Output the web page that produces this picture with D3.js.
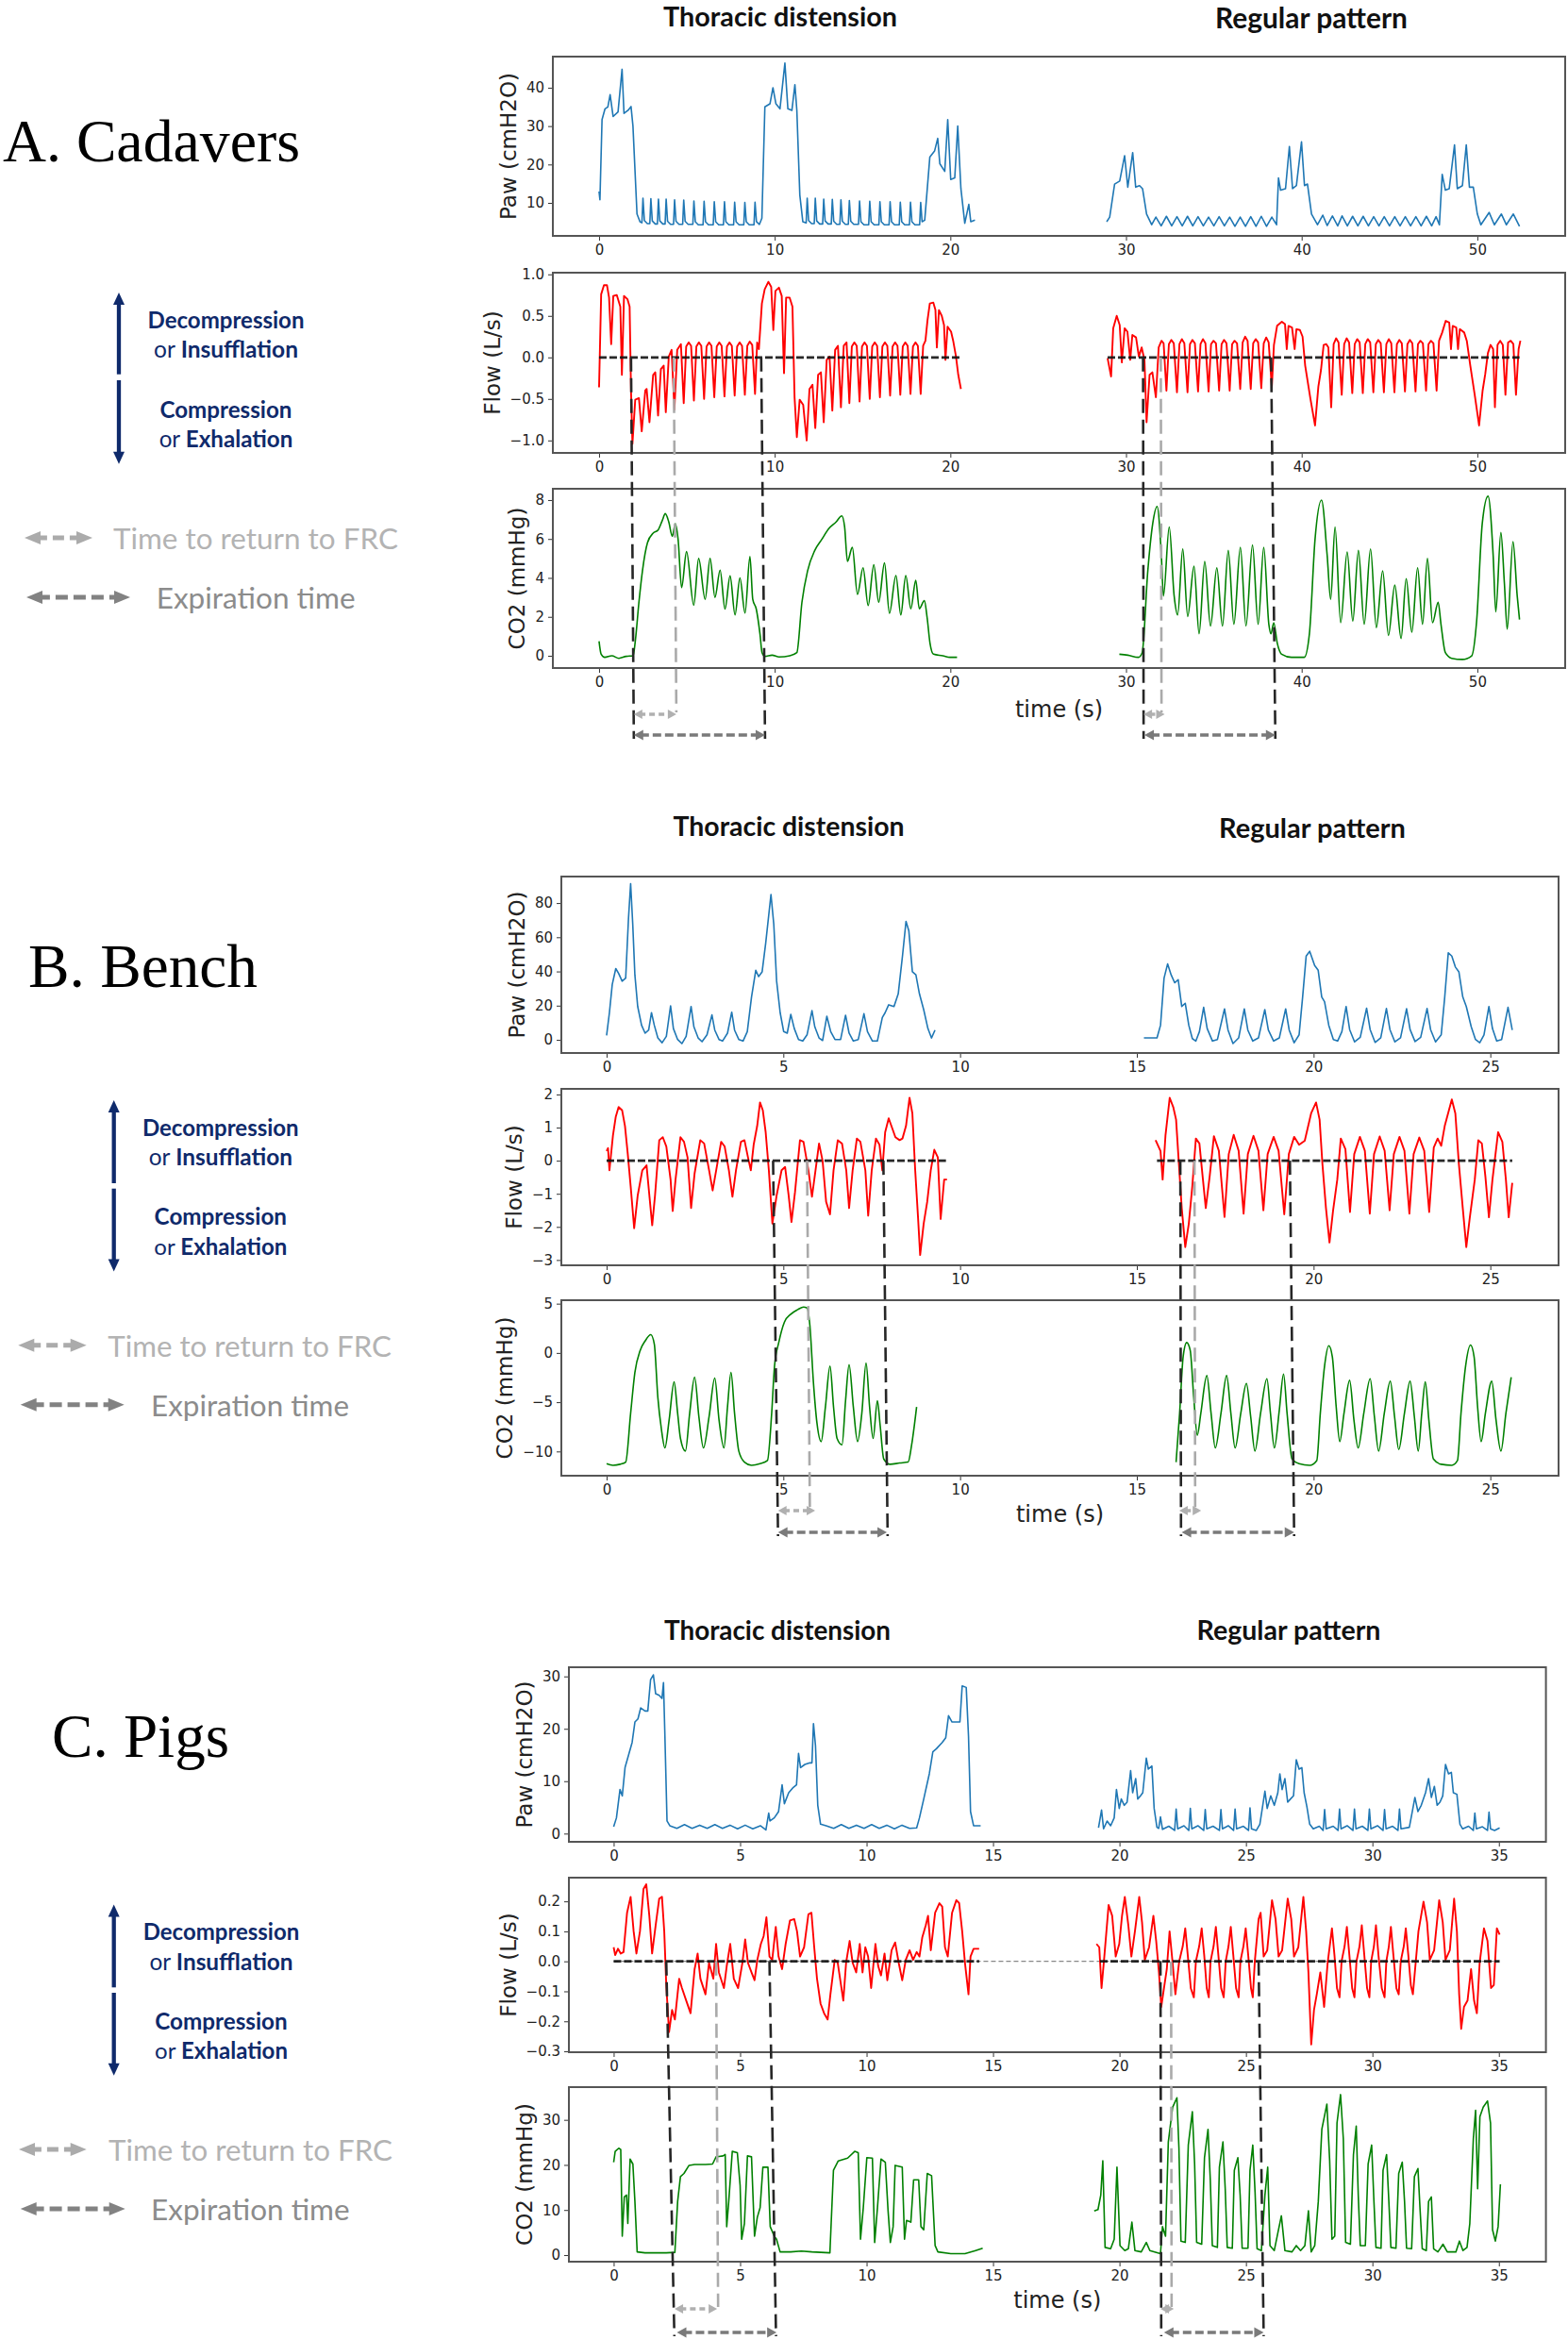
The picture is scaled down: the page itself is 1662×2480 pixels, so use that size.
<!DOCTYPE html>
<html><head><meta charset="utf-8">
<script src="https://cdn.jsdelivr.net/npm/d3@7"></script>
<style>body{margin:0;background:#fff}svg{display:block}</style>
</head><body>
<svg id="c" width="1662" height="2480"></svg>
<script>
// ===================== DATA (time s, value) =====================
const pawA1=[[0,13.0],[0.05,10.8],[0.17,31.7],[0.34,34.5],[0.5,35],[0.63,38.2],[0.8,32.5],[1.08,33.7],[1.31,44.8],[1.42,33.3],[1.65,34.1],[1.82,35.1],[1.93,30],[2.16,7.1],[2.33,5.1],
[2.44,4.8],[2.5,11.2],[2.58,5.4],[2.75,4.6],[2.89,4.6],[2.95,11.1],[3.03,5.3],[3.2,4.5],[3.32,4.5],[3.38,11.0],[3.46,5.3],[3.63,4.5],[3.76,4.5],[3.82,11.0],[3.9,5.2],[4.07,4.4],[4.24,4.4],[4.3,10.8],[4.38,5.2],[4.55,4.4],[4.76,4.4],[4.82,10.7],[4.9,5.2],[5.07,4.4],[5.34,4.4],[5.4,10.5],[5.48,5.1],[5.65,4.3],[5.92,4.3],[5.98,10.4],[6.06,5.1],[6.23,4.3],[6.5,4.3],[6.56,10.3],[6.64,5.1],[6.81,4.3],[7.08,4.3],[7.14,10.3],[7.22,5.1],[7.39,4.3],[7.66,4.3],[7.72,10.2],[7.8,5.1],[7.97,4.3],[8.24,4.3],[8.3,10.1],[8.38,5.1],[8.55,4.3],[8.82,4.3],[8.88,10.2],[8.96,5.1],[9.13,4.4],
[9.27,6],[9.44,35],[9.73,35.8],[9.9,40],[10.07,35.8],[10.3,34.5],[10.58,46.4],[10.75,34.5],[10.98,34.1],[11.15,40.8],[11.26,34.1],[11.43,12],[11.6,5.1],
[11.79,4.8],[11.85,11.2],[11.93,5.4],[12.1,4.6],[12.25,4.6],[12.31,11.2],[12.39,5.3],[12.56,4.5],[12.73,4.5],[12.79,11.0],[12.87,5.3],[13.04,4.5],[13.22,4.5],[13.28,10.9],[13.36,5.2],[13.53,4.4],[13.71,4.4],[13.77,10.8],[13.85,5.2],[14.02,4.4],[14.19,4.4],[14.25,10.6],[14.33,5.2],[14.5,4.4],[14.77,4.4],[14.83,10.5],[14.91,5.1],[15.08,4.3],[15.35,4.3],[15.41,10.4],[15.49,5.1],[15.66,4.3],[15.93,4.3],[15.99,10.3],[16.07,5.1],[16.24,4.3],[16.51,4.3],[16.57,10.3],[16.65,5.1],[16.82,4.3],[17.09,4.3],[17.15,10.2],[17.23,5.1],[17.4,4.3],[17.67,4.3],[17.73,10.2],[17.81,5.1],[17.98,4.3],[18.25,4.3],[18.31,10.1],[18.39,5.1],[18.54,5.5],
[18.83,21.9],[19.1,23.5],[19.28,26.8],[19.4,20.2],[19.68,18.2],[19.85,31.7],[20.02,16.1],[20.25,16.5],[20.42,30],[20.6,13.7],[20.82,4.7],[21.05,9.6],[21.16,5.1],[21.4,5.5]];
const pawA2=[[28.9,5.1],[29.07,6.3],[29.35,14.9],[29.64,15.7],[29.92,22.3],[30.1,14.1],[30.38,23.1],[30.55,14.1],[30.77,14.5],[30.94,13.7],[31.17,7.1],[31.46,4.3],
[31.7,6.3],[32.0,4.0],[32.3,6.5],[32.6,4.0],[32.9,6.4],[33.2,4.0],[33.5,6.5],[33.8,4.0],[34.1,6.4],[34.4,4.0],[34.7,6.3],[35.0,4.0],[35.3,6.4],[35.6,4.0],[35.9,6.3],[36.2,3.9],[36.5,6.3],[36.8,3.9],[37.1,6.4],[37.4,3.9],[37.7,6.5],[38.0,3.9],[38.3,6.3],[38.57,4.3],
[38.68,16.5],[38.8,13.3],[39.08,13.7],[39.3,24.7],[39.48,13.7],[39.7,14.5],[39.99,25.9],[40.16,14.5],[40.33,14.9],[40.56,7.1],[40.9,4.3],
[41.2,6.8],[41.45,4.1],[41.75,6.6],[42.05,4.0],[42.3,6.6],[42.6,4.0],[42.9,6.5],[43.2,4.0],[43.5,6.5],[43.8,4.0],[44.1,6.4],[44.4,4.0],[44.7,6.4],[45.0,4.0],[45.3,6.4],[45.6,4.0],[45.9,6.4],[46.2,4.0],[46.5,6.4],[46.8,4.0],[47.1,6.5],[47.4,4.0],[47.65,6.4],[47.84,4.3],
[48.0,17.4],[48.18,13.3],[48.4,13.7],[48.7,25.1],[48.86,13.7],[49.15,14.5],[49.37,25.1],[49.55,14.1],[49.77,14.1],[50.0,7.1],[50.2,4.3],[50.67,7.5],[50.97,4.3],[51.37,7.1],[51.65,4.3],[52.05,7.1],[52.4,3.9]];

const flowA1=[[0,-0.36],[0.12,0.76],[0.28,0.87],[0.45,0.87],[0.57,0.72],[0.69,0.16],[0.81,0.74],[1.01,0.75],[1.21,0.61],[1.3,-0.21],[1.42,0.74],[1.62,0.7],[1.74,0.61],[1.82,-0.4],[1.9,-1.04],[2.06,-0.51],[2.27,-0.49],[2.43,-0.89],[2.63,-0.4],[2.71,-0.38],[2.87,-0.78],[3.08,-0.21],[3.2,-0.18],[3.36,-0.7],[3.52,-0.14],[3.68,-0.1],[3.8,-0.66],[3.97,0.01],[4.13,0.09],[4.29,-0.63],[4.45,0.09],[4.66,0.16],[4.82,-0.55],
[4.96,0.13],[5.1,0.18],[5.24,0.14],[5.4,-0.52],[5.54,0.13],[5.68,0.18],[5.82,0.14],[5.98,-0.5],[6.12,0.13],[6.26,0.18],[6.4,0.14],[6.56,-0.48],[6.7,0.13],[6.84,0.18],[6.98,0.14],[7.14,-0.47],[7.28,0.13],[7.42,0.18],[7.56,0.14],[7.72,-0.46],[7.86,0.13],[8.0,0.18],[8.14,0.14],[8.3,-0.45],[8.44,0.14],[8.58,0.19],[8.72,0.15],[8.88,-0.44],[9.0,0.18],[9.1,0.1],
[9.27,0.65],[9.43,0.82],[9.64,0.91],[9.8,0.85],[9.92,0.33],[10.04,0.8],[10.24,0.84],[10.4,0.74],[10.53,-0.19],[10.65,0.72],[10.85,0.72],[11.01,0.61],[11.13,-0.48],[11.26,-0.96],[11.42,-0.51],[11.62,-0.57],[11.82,-1.0],[11.98,-0.38],[12.15,-0.33],[12.31,-0.85],[12.47,-0.21],[12.63,-0.18],[12.79,-0.78],[12.96,-0.03],[13.12,0.01],[13.28,-0.64],[13.44,0.09],[13.6,0.14],[13.77,-0.6],[13.93,0.14],[14.09,0.18],[14.25,-0.55],
[14.39,0.13],[14.53,0.18],[14.67,0.14],[14.83,-0.53],[14.97,0.13],[15.11,0.18],[15.25,0.14],[15.41,-0.5],[15.55,0.13],[15.69,0.18],[15.83,0.14],[15.99,-0.48],[16.13,0.13],[16.27,0.18],[16.41,0.14],[16.57,-0.46],[16.71,0.13],[16.85,0.18],[16.99,0.14],[17.15,-0.45],[17.29,0.13],[17.43,0.18],[17.57,0.14],[17.73,-0.44],[17.87,0.13],[18.01,0.18],[18.15,0.14],[18.31,-0.44],[18.45,0.14],[18.58,0.2],[18.7,0.45],
[18.83,0.65],[19.03,0.66],[19.15,0.57],[19.23,0.12],[19.35,0.57],[19.51,0.5],[19.64,0.39],[19.72,-0.03],[19.84,0.37],[20.04,0.31],[20.16,0.2],[20.32,0.01],[20.45,-0.21],[20.6,-0.38]];
const flowA2=[[28.95,-0.01],[29.15,-0.23],[29.27,0.35],[29.47,0.5],[29.64,0.39],[29.76,-0.06],[29.92,0.35],[30.08,0.31],[30.24,-0.03],[30.36,0.27],[30.57,0.24],[30.73,0.01],[30.89,0.12],[31.05,-0.03],[31.17,-0.78],[31.34,-0.21],[31.5,-0.18],[31.7,-0.48],[31.86,0.12],[32.02,0.2],[32.14,0.17],[32.3,-0.4],
[32.44,0.16],[32.58,0.21],[32.72,0.17],[32.9,-0.42],[33.04,0.16],[33.18,0.22],[33.32,0.17],[33.5,-0.42],[33.64,0.16],[33.78,0.21],[33.92,0.17],[34.1,-0.41],[34.24,0.16],[34.38,0.22],[34.52,0.17],[34.7,-0.41],[34.84,0.16],[34.98,0.2],[35.12,0.17],[35.3,-0.4],[35.44,0.16],[35.58,0.21],[35.72,0.17],[35.9,-0.4],[36.04,0.16],[36.18,0.2],[36.32,0.17],[36.5,-0.38],[36.64,0.18],[36.78,0.25],[36.92,0.2],[37.1,-0.38],[37.24,0.17],[37.38,0.22],[37.52,0.18],[37.7,-0.37],[37.84,0.17],[37.98,0.24],[38.12,0.18],[38.3,-0.36],
[38.42,0.15],[38.6,0.38],[38.87,0.43],[39.05,0.4],[39.15,0.1],[39.25,0.38],[39.45,0.36],[39.6,0.1],[39.7,0.34],[39.9,0.33],[40.05,0.25],[40.2,-0.1],[40.5,-0.5],[40.76,-0.82],[40.95,-0.35],[41.1,-0.15],[41.25,0.15],[41.4,0.16],[41.52,0.12],[41.68,-0.6],
[41.82,0.16],[41.96,0.23],[42.1,0.18],[42.28,-0.45],[42.42,0.16],[42.56,0.23],[42.7,0.18],[42.88,-0.43],[43.02,0.16],[43.16,0.22],[43.3,0.18],[43.48,-0.43],[43.62,0.16],[43.76,0.22],[43.9,0.18],[44.08,-0.42],[44.22,0.16],[44.36,0.21],[44.5,0.17],[44.68,-0.42],[44.82,0.16],[44.96,0.22],[45.1,0.17],[45.28,-0.42],[45.42,0.16],[45.56,0.21],[45.7,0.17],[45.88,-0.41],[46.02,0.16],[46.16,0.21],[46.3,0.17],[46.48,-0.41],[46.62,0.16],[46.76,0.2],[46.9,0.17],[47.08,-0.4],[47.22,0.16],[47.36,0.2],[47.5,0.17],[47.68,-0.4],
[47.82,0.2],[48.0,0.3],[48.2,0.44],[48.4,0.42],[48.5,0.1],[48.6,0.38],[48.8,0.36],[48.9,0.1],[49.0,0.34],[49.25,0.3],[49.4,0.2],[49.6,-0.1],[49.85,-0.45],[50.1,-0.82],[50.3,-0.4],[50.45,-0.2],[50.6,0.05],[50.75,0.15],[50.9,0.1],[51.0,-0.6],[51.15,0.15],[51.3,0.2],[51.45,0.15],[51.6,-0.45],[51.75,0.18],[51.9,0.2],[52.05,0.16],[52.2,-0.45],[52.35,0.1],[52.45,0.2]];

const co2A1=[[0,0.75],[0.12,0.08],[0.32,-0.08],[0.73,0],[1.13,-0.13],[1.54,-0.03],[1.94,0],[2.07,0.81],[2.27,2.75],[2.47,4.36],[2.76,5.82],[3.08,6.3],[3.36,6.46],[3.6,6.95],[3.77,7.3],[3.97,6.87],[4.17,6.14],[4.34,6.79],[4.5,5.98],[4.7,3.5],[4.98,5.35],[5.39,2.6],[5.67,5.0],[6.04,2.9],[6.32,5.0],[6.6,3.0],[6.89,4.4],[7.17,2.4],[7.46,4.1],[7.74,2.1],[8.02,4.0],[8.31,2.2],[8.59,5.1],[8.75,2.9],[8.95,2.4],[9.16,1.13],[9.28,0.16],[9.44,-0.03],[9.85,0.03],[10.25,-0.06],[10.86,0],[11.26,0.16],[11.55,2.75],[11.87,4.36],[12.28,5.41],[12.68,5.98],[13.09,6.54],[13.49,6.87],[13.82,7.19],[13.98,6.62],[14.14,4.85],[14.42,5.57],[14.71,3.15],[15.03,4.52],[15.32,2.58],[15.64,4.68],[15.92,2.75],[16.25,4.77],[16.53,2.18],[16.9,4.12],[17.18,2.1],[17.46,4.12],[17.75,2.42],[18.03,3.88],[18.23,2.42],[18.52,2.83],[18.68,1.94],[18.84,0.65],[19.04,0.08],[19.57,0],[19.98,-0.08],[20.38,-0.08]];
const co2A2=[[29.62,0.08],[30.1,0.03],[30.71,-0.08],[30.92,0.16],[31.24,4.36],[31.52,6.79],[31.77,7.67],[32.01,5.17],[32.13,3.07],[32.46,6.62],[32.74,3.07],[32.94,2.1],[33.23,5.49],[33.51,2.02],[33.87,4.6],[34.16,1.13],[34.48,4.85],[34.81,1.53],[35.17,4.52],[35.49,1.53],[35.82,5.41],[36.14,1.62],[36.51,5.57],[36.83,1.53],[37.2,5.69],[37.52,1.62],[37.84,5.57],[38.13,1.62],[38.25,1.13],[38.41,1.7],[38.61,0.65],[38.86,0.08],[39.42,-0.08],[40.15,-0.08],[40.44,1.13],[40.76,5.98],[41.13,8.0],[41.45,5.17],[41.65,2.9],[41.9,6.62],[42.22,1.7],[42.59,5.33],[42.91,1.78],[43.23,5.41],[43.56,1.62],[43.92,5.49],[44.25,1.45],[44.61,4.36],[44.94,1.05],[45.3,3.63],[45.66,0.89],[45.95,3.96],[46.27,1.21],[46.6,4.52],[46.88,1.62],[47.16,5.0],[47.45,1.7],[47.77,2.75],[47.93,1.62],[48.18,0.16],[48.54,-0.13],[49.15,-0.19],[49.68,0],[49.96,1.78],[50.28,6.79],[50.61,8.2],[50.9,5.17],[51.05,2.26],[51.34,6.33],[51.54,3.72],[51.7,1.37],[52.03,5.86],[52.27,3.07],[52.4,1.86]];

const pawB1=[[0,2.6],[0.08,15.9],[0.16,32.4],[0.26,41.7],[0.34,38.9],[0.44,34.3],[0.54,36.1],[0.62,71.2],[0.68,91.4],[0.74,67.5],[0.8,38],[0.88,19.5],[0.99,8.5],[1.09,3.9],[1.19,5.7],[1.27,15.9],[1.35,8.5],[1.45,1.1],[1.57,-1.7],[1.69,2],[1.81,19.9],[1.89,6.6],[2.01,0.2],[2.13,-2.2],[2.25,2],[2.39,19.5],[2.47,7.6],[2.59,1.1],[2.7,-1.1],[2.84,2.9],[2.98,14.6],[3.06,5.7],[3.18,0.2],[3.28,-0.7],[3.42,3.9],[3.54,16.2],[3.62,5.7],[3.74,0.2],[3.86,-0.7],[3.98,4.8],[4.1,25.1],[4.22,40.7],[4.3,37],[4.4,39.8],[4.5,56.4],[4.65,85],[4.73,67.5],[4.81,34.3],[4.91,15.9],[5.01,4.8],[5.11,3.9],[5.21,14.9],[5.31,6.6],[5.43,0.2],[5.55,-0.7],[5.67,2.9],[5.81,17.1],[5.89,7.6],[6.01,1.1],[6.11,-0.4],[6.23,13.8],[6.34,4.8],[6.46,0.2],[6.62,0.2],[6.76,14.4],[6.86,3.9],[6.98,-0.7],[7.12,0.2],[7.28,15.3],[7.38,4.8],[7.52,-0.7],[7.66,-0.7],[7.8,13.1],[7.88,15.9],[7.98,20.5],[8.13,19.5],[8.25,26.9],[8.37,49],[8.47,69.3],[8.55,63.8],[8.65,39.8],[8.75,38],[8.85,26.9],[8.97,17.7],[9.09,6.6],[9.19,1.1],[9.29,5.7]];
const pawB2=[[15.2,1.1],[15.57,1.1],[15.67,8.5],[15.77,36.1],[15.87,44.4],[15.97,38],[16.07,33.4],[16.17,35.2],[16.27,19.5],[16.37,21.4],[16.47,8.5],[16.57,0.7],[16.67,-0.7],[16.77,4.8],[16.89,19],[16.99,6.6],[17.14,-0.7],[17.28,0.2],[17.48,18.1],[17.58,5.7],[17.72,-2.2],[17.88,1.1],[18.04,18.1],[18.14,5.7],[18.28,-0.7],[18.44,1.1],[18.62,17.7],[18.72,5.7],[18.87,-0.7],[19.03,1.1],[19.21,18.1],[19.31,5.7],[19.45,-1.7],[19.59,2.9],[19.69,25.1],[19.79,49],[19.89,51.8],[20.03,43.5],[20.13,40.7],[20.23,25.1],[20.31,22.3],[20.43,8.5],[20.56,0.2],[20.68,-0.7],[20.8,4.8],[20.92,19.5],[21.02,6],[21.16,-1.2],[21.32,1.5],[21.5,18.5],[21.6,6],[21.74,-1.5],[21.9,1.2],[22.06,18.3],[22.16,6],[22.3,-1.2],[22.46,1.2],[22.63,18.2],[22.73,6],[22.87,-1.0],[23.03,1.5],[23.21,18.3],[23.31,6],[23.45,-1.2],[23.61,2.9],[23.71,25.1],[23.81,50.9],[23.91,49],[24.01,42.6],[24.11,39.8],[24.22,25.1],[24.32,19.5],[24.46,7.6],[24.58,0.2],[24.7,-1.7],[24.82,2.9],[24.96,19.5],[25.06,6.6],[25.18,-0.7],[25.32,0.2],[25.5,19],[25.62,5.7]];

const flowB1=[[0,0.29],[0.04,0.38],[0.08,-0.29],[0.18,0.76],[0.26,1.33],[0.34,1.62],[0.44,1.52],[0.52,1.05],[0.6,0.19],[0.68,-0.76],[0.78,-2.04],[0.88,-1.05],[1.01,-0.29],[1.13,-0.14],[1.21,-1.05],[1.29,-1.95],[1.37,-1.05],[1.49,0.62],[1.59,0.71],[1.69,0.43],[1.81,-0.57],[1.87,-1.52],[1.95,-0.57],[2.09,0.71],[2.19,0.57],[2.29,0.1],[2.39,-1.43],[2.49,-0.38],[2.65,0.62],[2.76,0.52],[2.9,-0.29],[3.0,-0.9],[3.1,-0.29],[3.24,0.57],[3.34,0.43],[3.46,-0.29],[3.56,-1.09],[3.66,-0.29],[3.8,0.57],[3.9,0.62],[4.0,0.1],[4.08,-0.29],[4.16,0.48],[4.26,1.05],[4.34,1.76],[4.42,1.52],[4.5,0.86],[4.59,-0.29],[4.69,-1.9],[4.81,-1.05],[4.95,-0.29],[5.05,-0.19],[5.15,-1.05],[5.23,-1.85],[5.33,-0.95],[5.47,0.62],[5.57,0.57],[5.71,-0.29],[5.81,-1.09],[5.91,-0.29],[6.01,0.52],[6.11,0],[6.21,-1.24],[6.32,-1.62],[6.42,-0.29],[6.54,0.62],[6.66,0.52],[6.78,-0.29],[6.86,-1.43],[6.96,-0.29],[7.08,0.67],[7.18,0.57],[7.32,-0.29],[7.4,-1.66],[7.5,-0.29],[7.62,0.67],[7.72,0.48],[7.8,-0.29],[7.88,0.86],[7.98,1.28],[8.09,0.95],[8.17,0.71],[8.29,0.62],[8.37,0.67],[8.47,1.05],[8.57,1.9],[8.65,1.43],[8.73,-0.29],[8.81,-1.71],[8.87,-2.85],[8.97,-1.9],[9.07,-1.24],[9.17,-0.29],[9.27,0.33],[9.37,0.1],[9.45,-1.76],[9.55,-0.57],[9.63,-0.57]];
const flowB2=[[15.53,0.62],[15.67,0.29],[15.73,-0.57],[15.81,0.76],[15.93,1.9],[16.03,1.62],[16.11,1.24],[16.19,-0.1],[16.27,-1.43],[16.37,-2.61],[16.47,-1.9],[16.57,-0.76],[16.67,0.67],[16.77,0.52],[16.87,-0.57],[16.95,-1.43],[17.06,-0.48],[17.18,0.74],[17.32,0.3],[17.48,-1.7],[17.6,0.2],[17.74,0.78],[17.88,0.3],[18.02,-1.6],[18.14,0.2],[18.3,0.75],[18.44,0.3],[18.58,-1.5],[18.7,0.2],[18.87,0.72],[19.01,0.3],[19.17,-1.62],[19.3,0.2],[19.45,0.72],[19.59,0.48],[19.75,0.6],[19.93,1.43],[20.07,1.76],[20.17,1.24],[20.25,-0.1],[20.35,-1.43],[20.45,-2.47],[20.55,-1.52],[20.67,-0.57],[20.77,0.67],[20.9,0.35],[21.03,-1.55],[21.15,0.2],[21.31,0.72],[21.45,0.3],[21.59,-1.6],[21.71,0.2],[21.87,0.73],[22.01,0.3],[22.15,-1.5],[22.27,0.2],[22.43,0.72],[22.57,0.3],[22.71,-1.6],[22.83,0.2],[22.99,0.7],[23.13,0.3],[23.27,-1.55],[23.4,0.4],[23.51,0.67],[23.61,0.45],[23.71,1.05],[23.91,1.85],[24.01,1.43],[24.11,-0.1],[24.22,-1.43],[24.32,-2.61],[24.42,-1.71],[24.56,-0.57],[24.66,0.62],[24.76,0.52],[24.86,-0.48],[24.96,-1.71],[25.06,-0.57],[25.22,0.86],[25.34,0.57],[25.44,-0.57],[25.52,-1.71],[25.62,-0.67]];

const co2B1=[[0,-11.24],[0.18,-11.4],[0.38,-11.3],[0.54,-11.08],[0.68,-6.13],[0.8,-1.98],[0.95,0.26],[1.09,1.21],[1.25,1.85],[1.35,0.89],[1.45,-4.53],[1.55,-7.72],[1.65,-9.64],[1.77,-6.77],[1.91,-2.94],[2.01,-6.13],[2.09,-8.68],[2.23,-9.96],[2.35,-6.13],[2.49,-2.46],[2.61,-6.45],[2.74,-9.64],[2.9,-6.45],[3.06,-2.55],[3.18,-6.77],[3.32,-9.64],[3.42,-5.49],[3.52,-1.98],[3.62,-6.13],[3.74,-9.96],[3.9,-11.08],[4.1,-11.4],[4.34,-11.24],[4.55,-10.92],[4.67,-6.13],[4.75,-1.34],[4.87,1.05],[5.03,3.13],[5.21,3.93],[5.41,4.4],[5.57,4.66],[5.67,4.56],[5.75,2.81],[5.85,-2.94],[5.95,-7.09],[6.07,-9.0],[6.19,-5.49],[6.32,-1.34],[6.42,-5.49],[6.52,-8.68],[6.66,-9.32],[6.76,-4.85],[6.86,-1.18],[6.98,-5.49],[7.1,-9.0],[7.22,-6.13],[7.34,-1.02],[7.44,-5.49],[7.54,-8.68],[7.66,-4.85],[7.74,-7.4],[7.84,-10.76],[8.02,-11.3],[8.29,-11.17],[8.53,-11.08],[8.63,-9.32],[8.77,-5.49]];
const co2B2=[[16.11,-11.08],[16.21,-6.13],[16.31,-0.38],[16.41,1.05],[16.51,0.26],[16.61,-4.53],[16.71,-8.36],[16.81,-6.13],[16.98,-2.3],[17.1,-6.13],[17.22,-9.64],[17.38,-6.13],[17.54,-2.3],[17.66,-6.13],[17.78,-9.64],[17.94,-6.13],[18.1,-3.1],[18.22,-6.45],[18.34,-9.96],[18.5,-6.13],[18.68,-2.62],[18.78,-6.13],[18.89,-9.64],[19.03,-5.81],[19.15,-2.14],[19.25,-6.13],[19.39,-10.76],[19.59,-11.24],[19.89,-11.4],[20.09,-10.92],[20.19,-6.13],[20.31,-1.34],[20.43,0.73],[20.53,-0.38],[20.64,-5.49],[20.74,-9.0],[20.86,-6.13],[21.02,-2.78],[21.14,-6.77],[21.26,-9.64],[21.42,-6.13],[21.6,-2.62],[21.72,-6.45],[21.84,-9.96],[22.0,-6.13],[22.17,-2.87],[22.29,-6.45],[22.41,-9.8],[22.57,-6.13],[22.73,-2.87],[22.85,-6.45],[22.96,-9.96],[23.06,-6.13],[23.16,-2.94],[23.26,-6.77],[23.39,-10.76],[23.61,-11.3],[23.91,-11.4],[24.07,-10.92],[24.17,-6.13],[24.3,-1.34],[24.44,0.8],[24.54,-0.38],[24.64,-5.49],[24.74,-9.0],[24.86,-6.13],[25.04,-2.87],[25.16,-6.77],[25.3,-9.96],[25.44,-6.13],[25.59,-2.46]];

const pawC1=[[0,1.3],[0.11,3.0],[0.25,8.4],[0.34,7.2],[0.45,12.6],[0.59,15],[0.73,17.4],[0.84,21.3],[0.96,21.9],[1.07,24],[1.24,23.4],[1.35,23.4],[1.46,29.4],[1.57,30.3],[1.66,26.7],[1.8,26.4],[1.91,25.8],[1.97,28.8],[2.02,19.8],[2.11,2.4],[2.22,1.5],[2.5,1.0],[2.8,1.7],[3.1,1.0],[3.4,1.6],[3.7,1.0],[4.0,1.7],[4.3,1.0],[4.6,1.6],[4.9,0.9],[5.2,1.6],[5.5,0.9],[5.8,1.5],[6.02,0.7],[6.13,3.9],[6.18,2.4],[6.35,3.0],[6.52,4.2],[6.66,9.3],[6.75,5.7],[6.92,7.8],[7.08,8.7],[7.23,9.3],[7.31,15.3],[7.39,12.6],[7.56,13.2],[7.76,13.5],[7.84,13.5],[7.9,21],[7.98,16.8],[8.07,5.4],[8.18,1.8],[8.4,1.5],[8.7,1.0],[9.0,1.7],[9.3,1.0],[9.6,1.6],[9.9,1.0],[10.2,1.7],[10.5,1.0],[10.8,1.6],[11.1,0.9],[11.4,1.6],[11.7,1.0],[11.98,1.1],[12.09,3.0],[12.26,6.6],[12.48,11.4],[12.62,15.6],[12.76,16.2],[12.99,17.4],[13.13,18.3],[13.24,22.5],[13.38,21.3],[13.69,21.3],[13.78,28.2],[13.94,27.9],[14.03,18.6],[14.11,4.2],[14.23,1.5],[14.51,1.5]];
const pawC2=[[19.17,1.1],[19.29,4.5],[19.37,0.9],[19.51,2.4],[19.65,1.5],[19.79,3.0],[19.88,8.4],[19.99,4.8],[20.07,6.6],[20.19,5.4],[20.3,6.0],[20.44,12],[20.52,7.8],[20.64,10.5],[20.72,6.6],[20.83,7.2],[20.92,7.8],[21.06,14.4],[21.14,12.3],[21.28,12.9],[21.37,4.8],[21.48,1.2],
[21.55,1.0],[21.62,3.2],[21.7,0.8],[21.95,1.4],[22.18,0.6],[22.24,4.7],[22.3,0.9],[22.55,1.5],[22.74,0.6],[22.8,4.8],[22.86,0.9],[23.1,1.5],[23.33,0.6],[23.39,4.6],[23.45,0.9],[23.7,1.4],[23.95,0.6],[24.01,4.6],[24.07,0.9],[24.3,1.5],[24.51,0.6],[24.57,4.7],[24.63,0.9],[24.9,1.4],[25.1,0.6],[25.16,4.9],[25.22,0.9],[25.41,0.6],
[25.55,1.8],[25.75,8.1],[25.84,4.8],[25.98,7.2],[26.12,5.4],[26.26,7.8],[26.34,11.4],[26.43,8.4],[26.54,10.5],[26.65,6.0],[26.76,6.6],[26.88,7.2],[26.99,14.1],[27.1,12.3],[27.21,12.6],[27.3,7.8],[27.41,5.1],[27.52,1.8],[27.66,0.9],
[27.9,1.4],[28.05,0.6],[28.11,4.6],[28.17,0.9],[28.45,1.4],[28.64,0.6],[28.7,4.7],[28.76,0.9],[29.0,1.5],[29.23,0.6],[29.29,4.7],[29.35,0.9],[29.6,1.4],[29.82,0.6],[29.88,4.7],[29.94,0.9],[30.2,1.5],[30.42,0.6],[30.48,4.6],[30.54,0.9],[30.8,1.4],[31.01,0.6],[31.07,4.7],[31.13,0.9],[31.46,1.2],
[31.6,4.8],[31.68,6.9],[31.8,4.2],[31.93,5.4],[32.1,7.8],[32.22,10.5],[32.33,6.9],[32.45,9.0],[32.56,5.4],[32.67,6.0],[32.78,7.2],[32.89,13.2],[33.01,11.4],[33.12,11.7],[33.2,7.8],[33.34,7.5],[33.46,1.8],[33.57,0.9],
[33.8,1.4],[33.99,0.6],[34.05,3.9],[34.11,0.9],[34.35,1.3],[34.55,0.6],[34.61,4.1],[34.67,0.9],[34.83,0.6],[35.03,1.1]];

const flowC1=[[0,0.047],[0.06,0.021],[0.17,0.042],[0.28,0.026],[0.39,0.031],[0.53,0.162],[0.67,0.215],[0.79,0.1],[0.9,0.026],[1.04,0.1],[1.18,0.241],[1.29,0.257],[1.41,0.152],[1.52,0.026],[1.66,0.12],[1.8,0.209],[1.91,0.215],[2.0,0.1],[2.08,-0.079],[2.19,-0.236],[2.31,-0.162],[2.42,-0.194],[2.59,-0.058],[2.7,-0.089],[2.87,-0.131],[3.04,-0.173],[3.2,-0.026],[3.32,0.026],[3.43,-0.058],[3.63,-0.11],[3.77,-0.005],[3.94,-0.058],[4.05,0.058],[4.16,-0.037],[4.36,-0.089],[4.47,-0.016],[4.61,0.058],[4.75,-0.058],[4.92,-0.089],[5.09,-0.005],[5.2,0.073],[5.31,-0.005],[5.45,-0.037],[5.57,-0.063],[5.68,0.005],[5.82,0.058],[5.93,0.084],[6.04,0.147],[6.16,0.016],[6.27,0.005],[6.41,0.115],[6.52,0.016],[6.66,-0.026],[6.8,0.058],[6.97,0.136],[7.14,0.141],[7.25,0.1],[7.37,0.016],[7.53,0.047],[7.7,0.157],[7.82,0.162],[7.93,0.047],[8.04,-0.058],[8.18,-0.141],[8.32,-0.173],[8.46,-0.194],[8.57,-0.11],[8.74,0.005],[8.86,-0.005],[8.97,-0.068],[9.08,-0.131],[9.19,-0.005],[9.33,0.068],[9.45,-0.005],[9.59,-0.037],[9.73,0.058],[9.84,-0.037],[9.95,0.047],[10.06,0.016],[10.18,-0.089],[10.35,0.058],[10.46,-0.016],[10.57,-0.047],[10.71,0.026],[10.82,-0.063],[10.99,0.037],[11.13,0.063],[11.27,-0.005],[11.41,-0.063],[11.55,0.005],[11.7,0.037],[11.84,0.005],[11.98,0.031],[12.09,0.016],[12.2,0.079],[12.34,0.12],[12.43,0.152],[12.54,0.037],[12.71,0.162],[12.88,0.194],[12.99,0.183],[13.1,0.047],[13.21,0.016],[13.38,0.162],[13.55,0.204],[13.66,0.194],[13.78,0.1],[13.89,-0.005],[14.03,-0.11],[14.11,0.016],[14.23,0.042],[14.45,0.042]];
const flowC2=[[19.09,0.058],[19.2,0.047],[19.29,-0.089],[19.4,0.016],[19.57,0.188],[19.71,0.152],[19.85,0.016],[19.99,0.058],[20.1,0.152],[20.21,0.215],[20.35,0.12],[20.47,0.016],[20.61,0.1],[20.78,0.215],[20.89,0.131],[21.0,0.005],[21.17,0.047],[21.34,0.152],[21.45,0.068],[21.56,-0.037],[21.65,-0.152],[21.76,-0.089],[21.87,-0.026],[21.98,0.1],[22.1,-0.005],[22.21,-0.11],
[22.36,0.0],[22.5,0.05],[22.6,0.11],[22.7,0.02],[22.82,-0.09],[22.94,-0.12],[23.02,0.0],[23.15,0.05],[23.25,0.11],[23.35,0.02],[23.45,-0.09],[23.53,-0.12],[23.6,0.0],[23.72,0.05],[23.81,0.115],[23.91,0.02],[24.02,-0.09],[24.12,-0.12],[24.2,0.0],[24.31,0.05],[24.4,0.115],[24.5,0.02],[24.61,-0.09],[24.71,-0.12],[24.78,0.0],[24.9,0.05],[24.99,0.11],[25.09,0.02],[25.2,-0.09],[25.27,-0.12],[25.35,0.0],[25.5,0.141],[25.58,0.162],[25.7,0.016],[25.84,0.037],[26.03,0.204],[26.17,0.141],[26.29,0.016],[26.43,0.037],[26.65,0.209],[26.79,0.141],[26.9,0.016],[27.07,0.047],[27.27,0.215],[27.38,0.1],[27.47,-0.037],[27.58,-0.277],[27.69,-0.162],[27.8,-0.11],[27.94,-0.037],[28.09,-0.152],[28.23,-0.005],
[28.4,0.11],[28.5,0.02],[28.6,-0.09],[28.7,-0.12],[28.78,0.0],[28.9,0.05],[28.99,0.115],[29.09,0.02],[29.2,-0.09],[29.29,-0.12],[29.37,0.0],[29.49,0.05],[29.58,0.12],[29.68,0.02],[29.79,-0.09],[29.88,-0.12],[29.95,0.0],[30.06,0.05],[30.14,0.12],[30.24,0.02],[30.37,-0.09],[30.48,-0.12],[30.55,0.0],[30.65,0.05],[30.73,0.115],[30.83,0.02],[30.95,-0.09],[31.04,-0.11],[31.12,0.0],[31.24,0.05],[31.32,0.11],[31.42,0.02],[31.52,-0.08],[31.6,-0.11],
[31.82,0.1],[32.02,0.199],[32.16,0.131],[32.27,0.005],[32.44,0.037],[32.64,0.204],[32.78,0.131],[32.89,0.005],[33.06,0.037],[33.23,0.209],[33.34,0.1],[33.43,-0.11],[33.51,-0.225],[33.62,-0.152],[33.76,-0.131],[33.9,-0.026],[34.02,-0.131],[34.13,-0.173],[34.24,-0.005],[34.41,0.11],[34.55,0.068],[34.69,-0.089],[34.8,-0.079],[34.92,0.11],[35.03,0.089]];

const co2C1=[[0,20.6],[0.06,23.0],[0.2,23.7],[0.28,23.4],[0.34,4.2],[0.42,12.9],[0.51,13.3],[0.56,7.0],[0.65,21.3],[0.76,20.2],[0.84,11.9],[0.93,0.7],[1.24,0.5],[2.08,0.5],[2.42,0.6],[2.53,11.9],[2.64,17.4],[2.78,18.1],[2.98,19.9],[3.2,20.1],[3.63,20.1],[3.91,20.2],[4.05,21.8],[4.33,22.0],[4.41,22.3],[4.47,6.3],[4.55,11.9],[4.69,23.0],[4.89,22.7],[5.0,15.4],[5.06,3.5],[5.17,7.0],[5.29,22.0],[5.45,21.8],[5.57,4.2],[5.68,8.4],[5.79,10.5],[5.9,19.5],[6.1,19.5],[6.19,6.3],[6.35,4.2],[6.44,3.5],[6.58,0.7],[7.0,0.7],[7.42,0.9],[7.84,0.7],[8.55,0.5],[8.69,18.8],[8.88,20.9],[9.25,21.5],[9.53,23.0],[9.67,22.7],[9.76,3.5],[9.87,10.5],[10.01,21.6],[10.23,21.5],[10.32,2.8],[10.43,10.5],[10.57,21.3],[10.74,20.6],[10.85,9.8],[10.94,2.8],[11.05,6.3],[11.13,19.9],[11.41,19.5],[11.5,3.5],[11.58,7.7],[11.75,7.3],[11.86,16.7],[12.06,16.7],[12.15,6.3],[12.26,5.6],[12.4,18.1],[12.57,17.6],[12.71,2.1],[12.82,0.7],[13.33,0.3],[13.89,0.3],[14.31,1.0],[14.59,1.5]];
const co2C2=[[19.0,9.8],[19.15,10.1],[19.26,13.3],[19.34,20.9],[19.43,1.7],[19.65,1.4],[19.79,3.5],[19.9,19.5],[20.02,2.1],[20.21,1.0],[20.35,1.4],[20.49,7.3],[20.61,1.0],[20.86,0.7],[21.06,2.8],[21.2,1.0],[21.62,0.3],[21.7,6.3],[21.82,4.2],[21.93,25.1],[22.1,32.8],[22.27,34.9],[22.35,23.7],[22.43,3.1],[22.6,2.8],[22.72,24.4],[22.88,31.8],[22.97,20.2],[23.05,2.8],[23.25,2.4],[23.36,21.6],[23.5,27.9],[23.59,16.7],[23.67,2.1],[23.87,1.7],[23.95,19.5],[24.09,25.1],[24.18,14.7],[24.26,1.7],[24.46,1.5],[24.54,18.8],[24.68,21.6],[24.77,13.3],[24.85,1.5],[25.08,1.5],[25.16,18.8],[25.27,24.4],[25.36,14.0],[25.44,1.4],[25.61,1.0],[25.75,13.3],[25.86,19.5],[25.95,2.1],[26.12,1.0],[26.26,4.9],[26.4,8.7],[26.54,1.0],[26.82,0.7],[26.99,2.1],[27.16,1.0],[27.33,2.1],[27.47,9.8],[27.58,0.7],[27.72,2.1],[27.86,11.9],[28.0,27.9],[28.2,33.5],[28.31,20.9],[28.4,3.5],[28.51,4.2],[28.6,29.3],[28.74,35.6],[28.85,25.8],[28.94,2.8],[29.13,2.4],[29.25,22.3],[29.36,28.6],[29.44,13.3],[29.52,2.1],[29.72,2.1],[29.83,20.2],[29.97,24.4],[30.06,11.9],[30.14,1.7],[30.34,1.5],[30.42,18.8],[30.56,22.3],[30.65,11.9],[30.73,1.7],[30.93,1.5],[31.04,18.1],[31.18,20.6],[31.27,11.9],[31.35,1.5],[31.55,1.4],[31.66,17.4],[31.8,19.2],[31.88,10.5],[31.97,1.4],[32.13,1.0],[32.22,11.9],[32.33,12.9],[32.42,1.4],[32.59,0.7],[32.79,2.4],[32.96,0.7],[33.3,0.7],[33.44,3.1],[33.58,1.0],[33.74,1.7],[33.85,7.0],[33.99,25.8],[34.08,32.1],[34.16,14.7],[34.25,30.7],[34.38,32.8],[34.55,34.2],[34.67,29.3],[34.75,5.6],[34.86,3.1],[34.97,6.3],[35.06,15.7]];

// tick labels
const xTicksA=[0,10,20,30,40,50], xTicksB=[0,5,10,15,20,25], xTicksC=[0,5,10,15,20,25,30,35];
const yTicksPawA=[10,20,30,40], yTicksFlowA=[-1,-0.5,0,0.5,1], yTicksCo2A=[0,2,4,6,8];
const yTicksPawB=[0,20,40,60,80], yTicksFlowB=[-3,-2,-1,0,1,2], yTicksCo2B=[-10,-5,0,5];
const yTicksPawC=[0,10,20,30], yTicksFlowC=[-0.3,-0.2,-0.1,0,0.1,0.2], yTicksCo2C=[0,10,20,30];
// zero-flow reference spans
const zeroA=[[0,20.6],[28.95,52.4]], zeroB=[[0,9.6],[15.57,25.62]], zeroC=[[0,14.45],[19.23,35.03]], zeroCthin=[[0,35]];
// vertical markers [tTop, tBottom]
const markA={black:[[1.82,1.98],[9.23,9.45],[30.97,31.0],[38.26,38.5]],gray:[[4.25,4.4],[31.98,32.02]],light:[[1.98,4.4],[31.0,32.2]],dark:[[1.98,9.45],[31.05,38.5]]};
const markB={black:[[4.71,4.85],[7.83,7.95],[16.23,16.25],[19.33,19.45]],gray:[[5.67,5.75],[16.63,16.65]],light:[[4.85,5.9],[16.2,16.82]],dark:[[4.85,7.93],[16.27,19.45]]};
const markC={black:[[2.08,2.4],[6.16,6.42],[21.62,21.65],[25.5,25.7]],gray:[[4.05,4.13],[22.04,22.06]],light:[[2.41,4.09],[21.62,22.15]],dark:[[2.5,6.44],[21.76,25.7]]};

// ===================== LAYOUT =====================
const svg=d3.select('#c');
const NAVY='#0f2a6b';
const TICKFONT='DejaVu Sans';
const lin=d3.curveLinear, mono=d3.curveMonotoneX;

const blocks=[
 {x0:586,x1:1659,xdom:[-2.63,55.0],xt:xTicksA,mark:markA,zero:zeroA,arrOff:[49,71],timeOff:44,
  titles:[[827,17,248],[1390,18,204]],
  rows:[{y0:60,y1:250,yd:[1.4,48.1],yt:yTicksPawA,f:'d',lab:'Paw (cmH2O)',col:'#1f77b4',s:[pawA1,pawA2],cv:lin,w:1.6},
        {y0:289,y1:480,yd:[-1.15,1.02],yt:yTicksFlowA,f:'.1f',lab:'Flow (L/s)',col:'#ff0000',s:[flowA1,flowA2],cv:lin,w:1.9,flow:true},
        {y0:518,y1:708,yd:[-0.63,8.58],yt:yTicksCo2A,f:'d',lab:'CO2 (mmHg)',col:'#008000',s:[co2A1,co2A2],cv:mono,w:1.6}]},
 {x0:595,x1:1652,xdom:[-1.28,26.93],xt:xTicksB,mark:markB,zero:zeroB,arrOff:[37,60],timeOff:41,
  titles:[[836,875,245],[1391,876,198]],
  rows:[{y0:929,y1:1116,yd:[-7.7,95.5],yt:yTicksPawB,f:'d',lab:'Paw (cmH2O)',col:'#1f77b4',s:[pawB1,pawB2],cv:lin,w:1.6},
        {y0:1154,y1:1341,yd:[-3.16,2.17],yt:yTicksFlowB,f:'d',lab:'Flow (L/s)',col:'#ff0000',s:[flowB1,flowB2],cv:lin,w:1.9,flow:true},
        {y0:1378,y1:1564,yd:[-12.46,5.35],yt:yTicksCo2B,f:'d',lab:'CO2 (mmHg)',col:'#008000',s:[co2B1,co2B2],cv:mono,w:1.6}]},
 {x0:603,x1:1638.6,xdom:[-1.77,36.86],xt:xTicksC,mark:markC,zero:zeroC,thin:zeroCthin,arrOff:[50,75],timeOff:41,
  titles:[[824,1727,240],[1366,1727,195]],
  rows:[{y0:1767,y1:1952,yd:[-1.57,31.75],yt:yTicksPawC,f:'d',lab:'Paw (cmH2O)',col:'#1f77b4',s:[pawC1,pawC2],cv:lin,w:1.6},
        {y0:1990,y1:2175,yd:[-0.303,0.279],yt:yTicksFlowC,f:'.1f',lab:'Flow (L/s)',col:'#ff0000',s:[flowC1,flowC2],cv:lin,w:1.9,flow:true},
        {y0:2212,y1:2397,yd:[-1.47,37.26],yt:yTicksCo2C,f:'d',lab:'CO2 (mmHg)',col:'#008000',s:[co2C1,co2C2],cv:lin,w:1.6}]}
];

function fit(sel,target){const w=sel.node().getComputedTextLength();const fs=parseFloat(sel.attr('font-size'));sel.attr('font-size',(fs*target/w).toFixed(2));return sel;}

function dashArrow(g,xa,xb,y,color,sw,hl,hh,dash){
  g.append('line').attr('x1',xa+hl*0.7).attr('x2',xb-hl*0.7).attr('y1',y).attr('y2',y)
   .attr('stroke',color).attr('stroke-width',sw).attr('stroke-dasharray',dash);
  g.append('path').attr('d',`M${xa},${y}L${xa+hl},${y-hh/2}L${xa+hl},${y+hh/2}Z`).attr('fill',color);
  g.append('path').attr('d',`M${xb},${y}L${xb-hl},${y-hh/2}L${xb-hl},${y+hh/2}Z`).attr('fill',color);
}

blocks.forEach(b=>{
  const x=d3.scaleLinear().domain(b.xdom).range([b.x0,b.x1]);
  b.titles.forEach((t,i)=>{
    const s=svg.append('text').attr('x',t[0]).attr('y',t[1]).attr('text-anchor','middle').attr('dominant-baseline','central')
      .attr('font-family','Lato, "Open Sans", sans-serif').attr('font-weight','bold').attr('font-size',25).attr('fill','#111')
      .text(i===0?'Thoracic distension':'Regular pattern');
    fit(s,t[2]);
  });
  let flowY=null, bottom=null;
  b.rows.forEach((r,ri)=>{
    const y=d3.scaleLinear().domain(r.yd).range([r.y1,r.y0]);
    const g=svg.append('g');
    const clipId='clip'+b.x0+'_'+ri;
    svg.append('clipPath').attr('id',clipId).append('rect').attr('x',b.x0).attr('y',r.y0).attr('width',b.x1-b.x0).attr('height',r.y1-r.y0);
    const xa=g.append('g').attr('transform',`translate(0,${r.y1})`)
      .call(d3.axisBottom(x).tickValues(b.xt).tickSize(5).tickPadding(4).tickFormat(d3.format('d')));
    const ya=g.append('g').attr('transform',`translate(${b.x0},0)`)
      .call(d3.axisLeft(y).tickValues(r.yt).tickSize(5).tickPadding(4).tickFormat(d3.format(r.f)));
    [xa,ya].forEach(a=>{a.select('.domain').remove();a.selectAll('line').attr('stroke','#333');
      a.selectAll('text').attr('font-family',TICKFONT).attr('font-size',15).attr('fill','#222');});
    const bb=ya.node().getBBox();
    g.append('text').attr('transform',`translate(${b.x0+bb.x-19},${(r.y0+r.y1)/2}) rotate(-90)`)
      .attr('text-anchor','middle').attr('dominant-baseline','central').attr('font-family',TICKFONT)
      .attr('font-size',23).attr('fill','#222').text(r.lab);
    const pg=g.append('g').attr('clip-path',`url(#${clipId})`);
    if(r.flow){
      if(b.thin) b.thin.forEach(z=>pg.append('line').attr('x1',x(z[0])).attr('x2',x(z[1])).attr('y1',y(0)).attr('y2',y(0))
        .attr('stroke','#888').attr('stroke-width',1.3).attr('stroke-dasharray','5,3'));
    }
    const line=d3.line().x(d=>x(d[0])).y(d=>y(d[1])).curve(r.cv);
    r.s.forEach(s=>pg.append('path').datum(s).attr('d',line).attr('fill','none').attr('stroke',r.col)
      .attr('stroke-width',r.w).attr('stroke-linejoin','round'));
    if(r.flow){
      b.zero.forEach(z=>pg.append('line').attr('x1',x(z[0])).attr('x2',x(z[1])).attr('y1',y(0)).attr('y2',y(0))
        .attr('stroke','#111').attr('stroke-width',2.8).attr('stroke-dasharray','8,3').attr('opacity',0.9));
      flowY=y(0);
    }
    g.append('rect').attr('x',b.x0).attr('y',r.y0).attr('width',b.x1-b.x0).attr('height',r.y1-r.y0)
      .attr('fill','none').attr('stroke','#555').attr('stroke-width',2);
    bottom=r.y1;
  });
  const mg=svg.append('g');
  const yl=bottom+b.arrOff[0], yd=bottom+b.arrOff[1];
  b.mark.gray.forEach(m=>mg.append('line').attr('x1',x(m[0])).attr('x2',x(m[1])).attr('y1',flowY).attr('y2',yl-2)
    .attr('stroke','#aaaaaa').attr('stroke-width',2.6).attr('stroke-dasharray','15,7'));
  b.mark.black.forEach(m=>mg.append('line').attr('x1',x(m[0])).attr('x2',x(m[1])).attr('y1',flowY).attr('y2',yd+4)
    .attr('stroke','#262626').attr('stroke-width',2.6).attr('stroke-dasharray','15,7'));
  b.mark.light.forEach(m=>dashArrow(mg,x(m[0]),x(m[1]),yl,'#b0b0b0',3.5,9,10,'6,4'));
  b.mark.dark.forEach(m=>dashArrow(mg,x(m[0]),x(m[1]),yd,'#7a7a7a',3.5,10,11,'9,4'));
  svg.append('text').attr('x',(b.x0+b.x1)/2).attr('y',bottom+b.timeOff).attr('text-anchor','middle')
    .attr('dominant-baseline','central').attr('font-family',TICKFONT).attr('font-size',24).attr('fill','#222').text('time (s)');
});

// ===================== LEFT COLUMN =====================
const legends=[
 {name:'A. Cadavers',nx:3,ny:170.7,nw:315,ax:126,up:[310,396.7],dn:[403,491.7],cx:239.5,ty:[338,369.3,432.7,464],tw:[166,153,140,141.7],
  g1:[26,98,570],t1:[120,302],g2:[28,138,633],t2:[165.7,211]},
 {name:'B. Bench',nx:30,ny:1046,nw:243,ax:120.7,up:[1166,1254],dn:[1259.7,1347.5],cx:233.8,ty:[1194,1225.3,1288.3,1320],tw:[165.7,152.3,140.4,141],
  g1:[19.3,91.7,1425.7],t1:[114.3,300.7],g2:[21.7,131.7,1488.7],t2:[160,210]},
 {name:'C. Pigs',nx:55,ny:1862,nw:188,ax:120.7,up:[2018.5,2106.3],dn:[2112,2199.8],cx:234.5,ty:[2046,2077.7,2140.7,2172.4],tw:[165.6,152.3,140.4,141],
  g1:[20,91.7,2278],t1:[115,301],g2:[21.7,132.7,2341],t2:[160,210.7]}
];
const LF='Lato, "Open Sans", sans-serif';
legends.forEach(L=>{
  fit(svg.append('text').attr('x',L.nx).attr('y',L.ny).attr('font-family','"Liberation Serif", "Times New Roman", serif')
    .attr('font-size',65).attr('fill','#000').text(L.name),L.nw);
  const a=svg.append('g').attr('fill',NAVY).attr('stroke',NAVY);
  a.append('line').attr('x1',L.ax).attr('x2',L.ax).attr('y1',L.up[0]+10).attr('y2',L.up[1]).attr('stroke-width',4.3);
  a.append('path').attr('d',`M${L.ax},${L.up[0]}L${L.ax-6},${L.up[0]+13}L${L.ax+6},${L.up[0]+13}Z`).attr('stroke','none');
  a.append('line').attr('x1',L.ax).attr('x2',L.ax).attr('y1',L.dn[0]).attr('y2',L.dn[1]-10).attr('stroke-width',4.3);
  a.append('path').attr('d',`M${L.ax},${L.dn[1]}L${L.ax-6},${L.dn[1]-13}L${L.ax+6},${L.dn[1]-13}Z`).attr('stroke','none');
  const lines=[[['Decompression','bold']],[['or ','normal'],['Insufflation','bold']],[['Compression','bold']],[['or ','normal'],['Exhalation','bold']]];
  lines.forEach((ln,i)=>{
    const t=svg.append('text').attr('x',L.cx).attr('y',L.ty[i]).attr('text-anchor','middle').attr('dominant-baseline','central')
      .attr('font-family',LF).attr('font-size',23).attr('fill',NAVY);
    ln.forEach(p=>t.append('tspan').attr('font-weight',p[1]).text(p[0]));
    fit(t,L.tw[i]);
  });
  dashArrow(svg,L.g1[0],L.g1[1],L.g1[2],'#ababab',5,17,14,'12,6');
  fit(svg.append('text').attr('x',L.t1[0]).attr('y',L.g1[2]).attr('dominant-baseline','central').attr('font-family',LF)
    .attr('font-size',30).attr('fill','#b3b3b3').text('Time to return to FRC'),L.t1[1]);
  dashArrow(svg,L.g2[0],L.g2[1],L.g2[2],'#828282',5,17,14,'13,6');
  fit(svg.append('text').attr('x',L.t2[0]).attr('y',L.g2[2]).attr('dominant-baseline','central').attr('font-family',LF)
    .attr('font-size',30).attr('fill','#8c8c8c').text('Expiration time'),L.t2[1]);
});
</script>
</body></html>
